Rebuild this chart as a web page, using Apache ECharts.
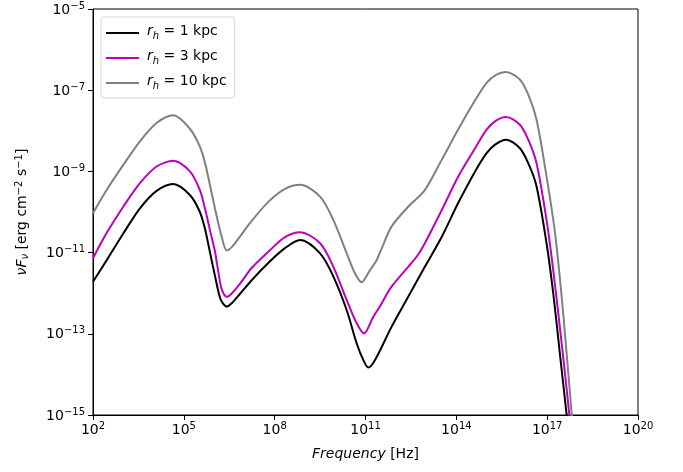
<!DOCTYPE html>
<html>
<head>
<meta charset="utf-8">
<script src="https://cdn.jsdelivr.net/npm/echarts@6/dist/echarts.min.js"></script>
<style>
  html, body { margin: 0; padding: 0; background: #fff; }
  #chart { width: 683px; height: 472px; }
</style>
</head>
<body>
<div id="chart"></div>
<script>
// log10 of frequency [Hz] and log10 of nuF_nu
const logNu1 = [2.0, 2.5, 3.0, 3.55, 4.1, 4.65, 5.2, 5.53, 5.7, 5.86, 6.03, 6.19, 6.29, 6.42, 6.59, 6.85, 7.24, 7.78, 8.34, 8.84, 9.5, 9.94, 10.38, 10.71, 10.93, 11.09, 11.31, 11.86, 12.41, 12.96, 13.52, 14.06, 14.62, 15.0, 15.28, 15.64, 16.1, 16.4, 16.65, 16.98, 17.2, 17.42, 17.64, 17.72];
const logF1 = [-11.72, -11.13, -10.53, -9.91, -9.48, -9.31, -9.58, -10.0, -10.42, -10.98, -11.58, -12.1, -12.25, -12.33, -12.24, -12.02, -11.68, -11.26, -10.89, -10.69, -11.02, -11.59, -12.42, -13.24, -13.65, -13.83, -13.65, -12.83, -12.09, -11.35, -10.61, -9.78, -9.0, -8.55, -8.34, -8.22, -8.43, -8.84, -9.37, -10.77, -12.0, -13.49, -14.97, -15.5];

const logNu3 = [2.0, 2.45, 3.0, 3.55, 4.1, 4.65, 5.2, 5.53, 5.7, 5.86, 6.03, 6.14, 6.25, 6.42, 6.59, 6.85, 7.24, 7.79, 8.34, 8.84, 9.5, 9.94, 10.38, 10.71, 10.95, 11.26, 11.48, 11.86, 12.41, 12.73, 12.96, 13.52, 14.06, 14.62, 15.0, 15.31, 15.64, 16.1, 16.4, 16.65, 16.98, 17.2, 17.48, 17.73, 17.8];
const logF3 = [-11.14, -10.52, -9.87, -9.29, -8.88, -8.74, -9.0, -9.46, -9.92, -10.44, -10.98, -11.48, -11.9, -12.09, -12.0, -11.77, -11.38, -10.98, -10.62, -10.5, -10.77, -11.35, -12.17, -12.74, -12.99, -12.58, -12.32, -11.84, -11.35, -11.06, -10.77, -9.95, -9.13, -8.43, -7.97, -7.75, -7.66, -7.85, -8.26, -8.8, -10.2, -11.43, -13.24, -14.97, -15.5];

const logNu10 = [2.0, 2.45, 3.0, 3.55, 4.1, 4.65, 5.2, 5.53, 5.7, 5.86, 6.06, 6.25, 6.42, 6.59, 6.8, 7.24, 7.79, 8.34, 8.84, 9.5, 9.94, 10.38, 10.65, 10.87, 11.15, 11.35, 11.51, 11.86, 12.41, 12.96, 13.52, 14.06, 14.62, 15.0, 15.31, 15.64, 16.1, 16.4, 16.65, 16.98, 17.26, 17.53, 17.81, 17.88];
const logF10 = [-10.03, -9.46, -8.84, -8.26, -7.81, -7.62, -7.95, -8.39, -8.79, -9.33, -10.02, -10.61, -10.95, -10.86, -10.66, -10.22, -9.75, -9.43, -9.33, -9.62, -10.2, -11.02, -11.51, -11.73, -11.43, -11.21, -10.94, -10.36, -9.87, -9.46, -8.71, -7.97, -7.25, -6.82, -6.62, -6.55, -6.74, -7.15, -7.73, -9.13, -10.52, -12.5, -14.97, -15.5];

const xTicks = [1e2, 1e5, 1e8, 1e11, 1e14, 1e17, 1e20];
const yTicks = [1e-15, 1e-13, 1e-11, 1e-9, 1e-7, 1e-5];
const seriesNames = ['rh1', 'rh3', 'rh10'];
const legendText = { rh1: ' = 1 kpc', rh3: ' = 3 kpc', rh10: ' = 10 kpc' };
const colors = ['#000000', '#bf00bf', '#808080'];

function toPairs(xs, ys) {
  return xs.map((x, i) => [Math.pow(10, x), Math.pow(10, ys[i])]);
}

const FONT = 'DejaVu Sans';
const powRich = {
  b: { fontFamily: FONT, fontSize: 14, color: '#000', lineHeight: 16, padding: [2, 0, 0, 0] },
  s: { fontFamily: FONT, fontSize: 10, color: '#000', lineHeight: 10, verticalAlign: 'top' }
};
function powLabel(v) {
  const e = Math.round(Math.log10(v));
  return '{b|10}{s|' + String(e).replace('-', '\u2212') + '}';
}

const chart = echarts.init(document.getElementById('chart'));
const option = {
  animation: false,
  backgroundColor: '#fff',
  textStyle: { fontFamily: FONT },
  grid: {
    left: 93, right: 45, top: 9, bottom: 57,
    show: true, borderColor: '#000', borderWidth: 1, backgroundColor: 'transparent'
  },
  legend: {
    orient: 'vertical',
    left: 101, top: 17,
    padding: [7, 8, 6, 5],
    icon: 'rect',
    itemWidth: 33, itemHeight: 2, itemGap: 7,
    borderColor: '#d6d6d6', borderWidth: 1, borderRadius: 3,
    backgroundColor: '#fff',
    data: seriesNames,
    formatter: function (name) {
      return '{i|r}{sub|h}{t|' + legendText[name] + '}';
    },
    textStyle: {
      padding: [0, 0, 0, 3],
      rich: {
        i: { fontFamily: FONT, fontSize: 14, fontStyle: 'italic', color: '#000', lineHeight: 16, padding: [0, 0, 4, 0] },
        sub: { fontFamily: FONT, fontSize: 10, fontStyle: 'italic', color: '#000', lineHeight: 10, verticalAlign: 'bottom' },
        t: { fontFamily: FONT, fontSize: 14, color: '#000', lineHeight: 16, padding: [0, 0, 4, 0] }
      }
    }
  },
  xAxis: {
    type: 'log',
    logBase: 10,
    min: 1e2,
    max: 1e20,
    name: '{it|Frequency}{t| [Hz]}',
    nameLocation: 'middle',
    nameGap: 32,
    nameTextStyle: {
      rich: {
        it: { fontFamily: FONT, fontSize: 14, fontStyle: 'italic', color: '#000' },
        t: { fontFamily: FONT, fontSize: 14, color: '#000' }
      }
    },
    axisLine: { show: true, lineStyle: { color: '#000', width: 1 } },
    axisTick: { show: true, length: 5, lineStyle: { color: '#000', width: 1 }, customValues: xTicks },
    axisLabel: { margin: 6, formatter: powLabel, rich: powRich, customValues: xTicks, showMinLabel: true, showMaxLabel: true },
    minorTick: { show: false },
    splitLine: { show: false }
  },
  yAxis: {
    type: 'log',
    logBase: 10,
    min: 1e-15,
    max: 1e-5,
    name: '{it|\u03bdF}{sub|\u03bd}{t| [erg cm}{sup|\u22122}{t| s}{sup|\u22121}{t|]}',
    nameLocation: 'middle',
    nameRotate: 90,
    nameGap: 63,
    nameTextStyle: {
      rich: {
        it: { fontFamily: FONT, fontSize: 14, fontStyle: 'italic', color: '#000', lineHeight: 16, padding: [3, 0, 3, 0] },
        sub: { fontFamily: FONT, fontSize: 10, fontStyle: 'italic', color: '#000', lineHeight: 10, verticalAlign: 'bottom' },
        t: { fontFamily: FONT, fontSize: 14, color: '#000', lineHeight: 16, padding: [3, 0, 3, 0] },
        sup: { fontFamily: FONT, fontSize: 10, color: '#000', lineHeight: 10, verticalAlign: 'top' }
      }
    },
    axisLine: { show: true, lineStyle: { color: '#000', width: 1 } },
    axisTick: { show: true, length: 5, lineStyle: { color: '#000', width: 1 }, customValues: yTicks },
    axisLabel: { margin: 8, formatter: powLabel, rich: powRich, customValues: yTicks, showMinLabel: true, showMaxLabel: true },
    minorTick: { show: false },
    splitLine: { show: false }
  },
  series: [
    { name: 'rh1', data: toPairs(logNu1, logF1) },
    { name: 'rh3', data: toPairs(logNu3, logF3) },
    { name: 'rh10', data: toPairs(logNu10, logF10) }
  ].map((s, i) => Object.assign({
    type: 'line',
    symbol: 'none',
    smooth: 0.3,
    clip: true,
    color: colors[i],
    lineStyle: { color: colors[i], width: 2 }
  }, s))
};
chart.setOption(option);
</script>
</body>
</html>
